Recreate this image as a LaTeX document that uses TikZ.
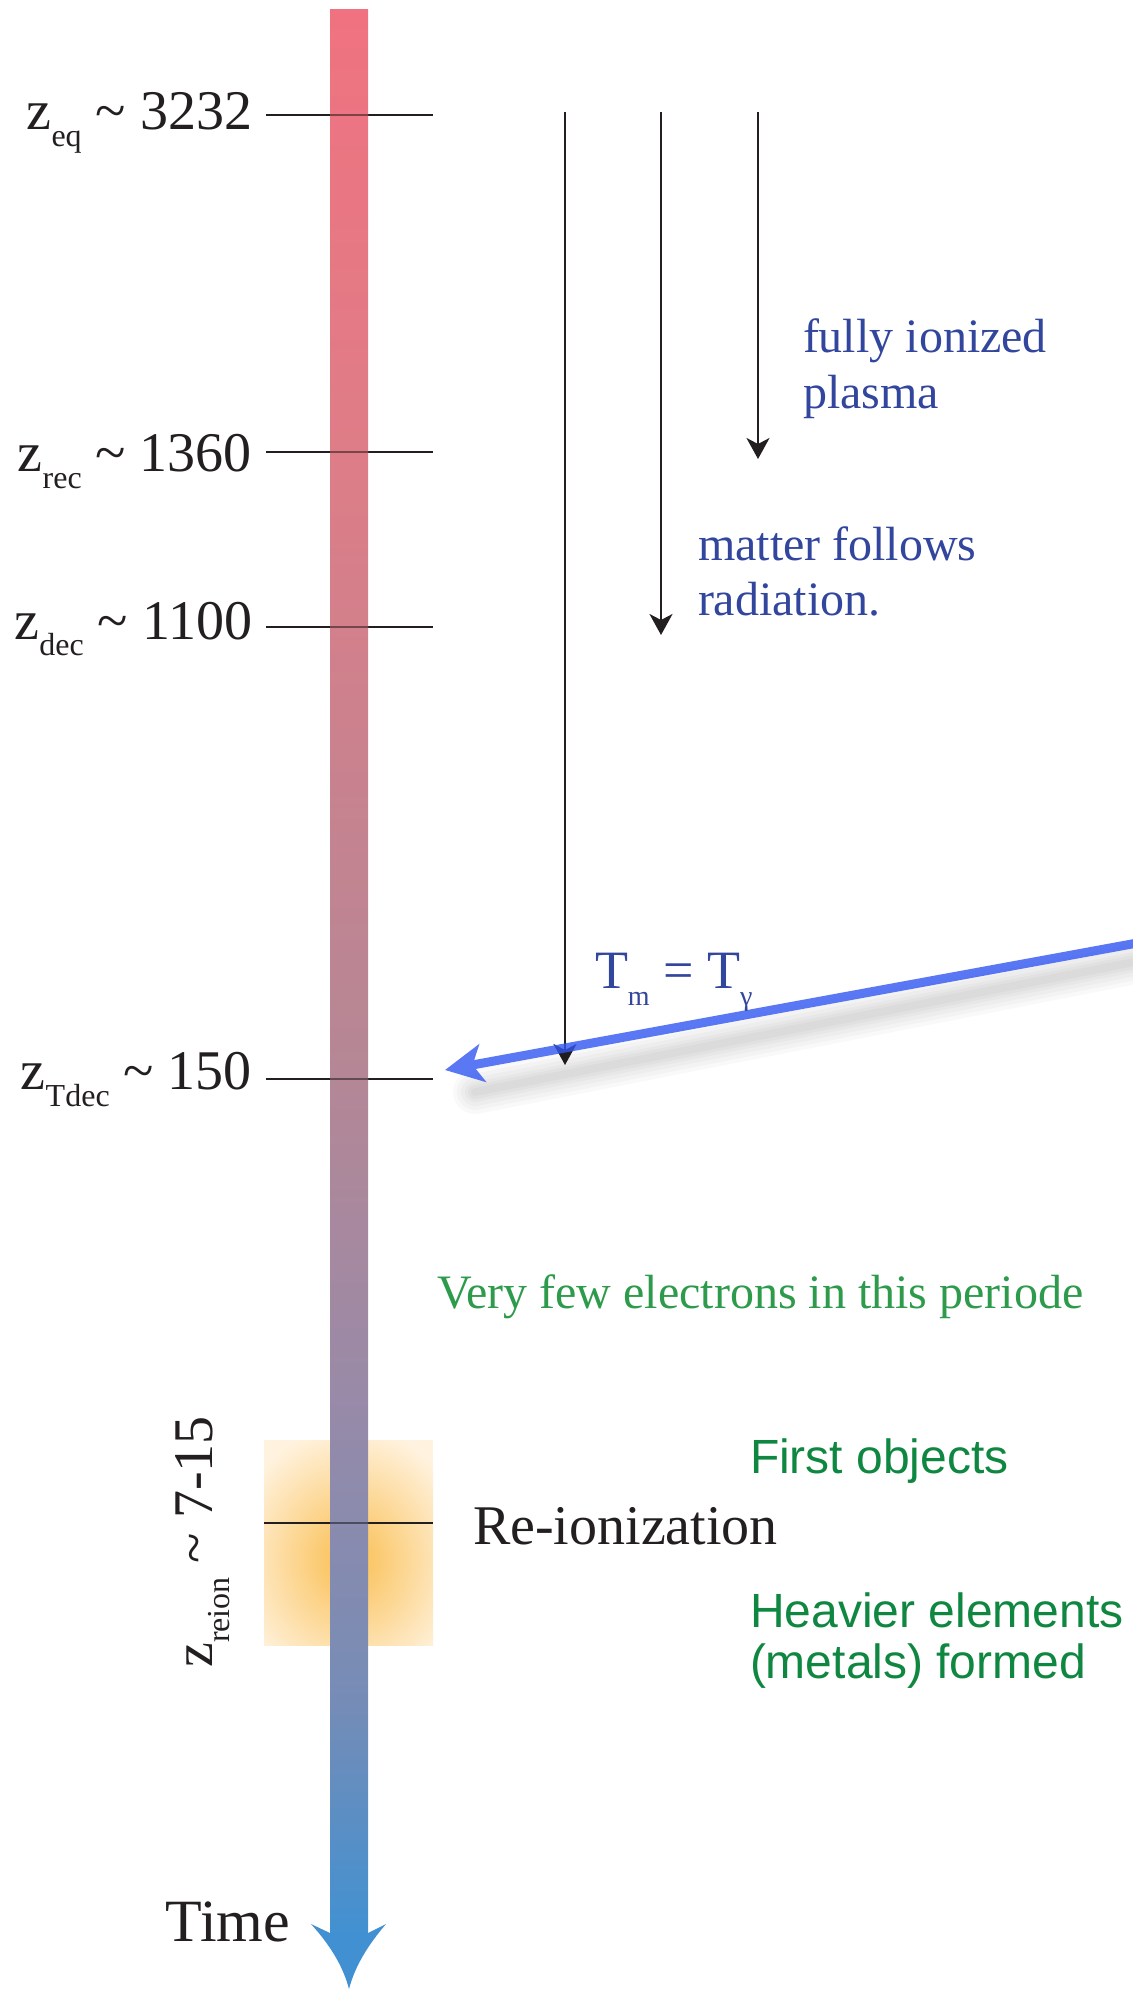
\documentclass[tikz,border=0pt]{standalone}
\usepackage{fontspec}
\setmainfont{Liberation Serif}
\newfontfamily\sansfam{Liberation Sans}
\usetikzlibrary{arrows.meta,calc}
\definecolor{cTop}{RGB}{240,114,128}
\definecolor{cTwo}{RGB}{222,125,135}
\definecolor{cThree}{RGB}{180,135,150}
\definecolor{cFour}{RGB}{152,138,168}
\definecolor{cFive}{RGB}{118,140,182}
\definecolor{cBot}{RGB}{65,145,210}
\definecolor{txtblue}{RGB}{50,70,158}
\definecolor{grserif}{RGB}{45,155,75}
\definecolor{grsans}{RGB}{15,135,65}
\definecolor{arrblue}{RGB}{49,86,242}
\definecolor{glowbg}{RGB}{255,243,224}
\definecolor{glowc}{RGB}{250,190,80}
\definecolor{inkblack}{RGB}{35,31,32}
\pgfdeclareverticalshading{timebar}{100bp}{color(0bp)=(cBot); color(25bp)=(cBot); color(31.2bp)=(cFive); color(38.9bp)=(cFour); color(47.2bp)=(cThree); color(63.6bp)=(cTwo); color(75bp)=(cTop); color(100bp)=(cTop)}
\newcommand\zsub[1]{\raisebox{-8.5pt}{\fontsize{16}{16}\selectfont #1}}
\newcommand\tsub[1]{\raisebox{-8.5pt}{\fontsize{14}{14}\selectfont #1}}
\begin{document}
\begin{tikzpicture}[x=0.5pt,y=-0.5pt,
  every node/.style={inner sep=0pt,outer sep=0pt},
  zlabel/.style={anchor=base east,font=\fontsize{28}{32}\selectfont,text=inkblack},
  tick/.style={draw=inkblack,line width=1.2pt},
  tickover/.style={draw=black,opacity=0.45,line width=1.2pt},
  flow/.style={draw=inkblack,line width=1.1pt,-{Stealth[length=10.5pt,width=11.5pt,inset=3pt]}},
  bluenote/.style={anchor=base west,font=\fontsize{24}{28}\selectfont,text=txtblue},
  greenserif/.style={anchor=base west,font=\fontsize{24}{28}\selectfont,text=grserif},
  greensans/.style={anchor=base west,font=\sansfam\fontsize{24}{28}\selectfont,text=grsans}]
\useasboundingbox (0,0) rectangle (1132,1989);
\fill[white] (0,0) rectangle (1132,1989);

% glow box
\fill[glowbg] (264,1440) rectangle (433,1645);
\begin{scope}
  \clip (264,1440) rectangle (433,1645);
  \shade[inner color=glowc,outer color=glowbg] (349,1560) ellipse [x radius=120,y radius=135];
\end{scope}

% tick coordinates
\coordinate (eqL) at (266,115);   \coordinate (eqR) at (433,115);
\coordinate (recL) at (266,452);  \coordinate (recR) at (433,452);
\coordinate (decL) at (266,627);  \coordinate (decR) at (433,627);
\coordinate (tdL) at (266,1079);  \coordinate (tdR) at (433,1079);
\coordinate (reL) at (264,1523);  \coordinate (reR) at (433,1523);
\foreach \a/\b in {eqL/eqR,recL/recR,decL/decR,tdL/tdR,reL/reR}{\draw[tick] (\a) -- (\b);}

% time bar
\shade[shading=timebar] (330,10) rectangle (368,1937);
\fill[cBot] (330,1933) -- (311,1924) .. controls (330,1945) and (343,1966) .. (349,1989)
  .. controls (355,1966) and (368,1945) .. (386,1924) -- (368,1933) -- cycle;
\foreach \yy in {115,452,627,1079,1523}{\draw[tickover] (330,\yy) -- (368,\yy);}

% z labels
\node[zlabel] (zeq) at (252,130) {z\zsub{eq} \textasciitilde{} 3232};
\node[zlabel] (zrec) at (252,472) {z\zsub{rec} \textasciitilde{} 1360};
\node[zlabel] (zdec) at (252,639) {z\zsub{dec} \textasciitilde{} 1100};
\node[zlabel] (ztdec) at (252,1089) {z\zsub{Tdec} \textasciitilde{} 150};
\node[rotate=90,anchor=base,font=\fontsize{28}{32}\selectfont,text=inkblack] (zreion) at (212,1542) {z\zsub{reion} \textasciitilde{} 7-15};
\node[anchor=base east,font=\fontsize{30}{34}\selectfont,text=inkblack] (time) at (290,1941) {Time};

% black flow arrows
\coordinate (a1s) at (565,112); \coordinate (a1e) at (565,1065);
\coordinate (a2s) at (661,112); \coordinate (a2e) at (661,635);
\coordinate (a3s) at (758,112); \coordinate (a3e) at (758,459);
\draw[flow] (a1s) -- (a1e);
\draw[flow] (a2s) -- (a2e);
\draw[flow] (a3s) -- (a3e);

% blue arrow with soft shadow
\coordinate (bstart) at (1170,937);
\coordinate (btip) at (445,1070);
\foreach \w in {22,18,14,10,7,4}{
  \draw[black,opacity=0.025,line width=\w pt,line cap=round] ($(bstart)+(0,18)$) -- ($(btip)+(30,22)$);
}
\begin{scope}[transparency group,opacity=0.8]
  \draw[arrblue,line width=4.5pt,-{Stealth[length=19pt,width=19pt,inset=5pt]}] (bstart) -- (btip);
\end{scope}
\node[anchor=base west,font=\fontsize{27}{30}\selectfont,text=txtblue] (teq) at (595,988) {T\tsub{m} = T\tsub{γ}};

% notes
\node[bluenote] (fi1) at (803,353) {fully ionized};
\node[bluenote] (fi2) at (803,409) {plasma};
\node[bluenote] (mf1) at (698,560) {matter follows};
\node[bluenote] (mf2) at (698,615) {radiation.};
\node[greenserif] (few) at (437,1308) {Very few electrons in this periode};
\node[greensans] (first) at (750,1473) {First objects};
\node[anchor=base west,font=\fontsize{28}{32}\selectfont,text=inkblack] (reion) at (473,1544) {Re-ionization};
\node[greensans] (heavy1) at (750,1627) {Heavier elements};
\node[greensans] (heavy2) at (750,1678) {(metals) formed};
\end{tikzpicture}
\end{document}
